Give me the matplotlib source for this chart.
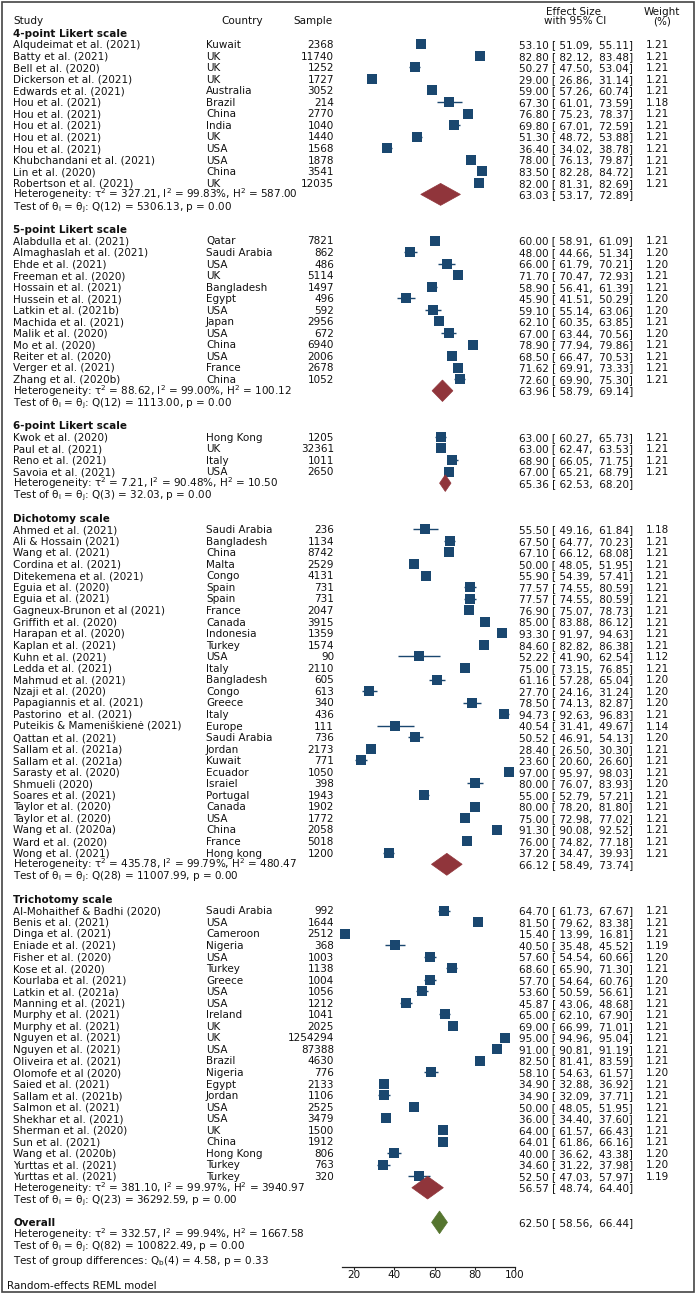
import matplotlib
matplotlib.use("Agg")
import matplotlib.pyplot as plt
from matplotlib.patches import Polygon, Rectangle
import matplotlib.transforms as mtransforms

plt.rcParams['font.family'] = ['DejaVu Sans']
plt.rcParams['mathtext.fontset'] = 'dejavusans'
plt.rcParams['mathtext.default'] = 'regular'

# ---------------- data ----------------
group_names = ["4-point Likert scale", "5-point Likert scale", "6-point Likert scale",
               "Dichotomy scale", "Trichotomy scale"]

studies_4 = ["Alqudeimat et al. (2021)", "Batty et al. (2021)", "Bell et al. (2020)",
             "Dickerson et al. (2021)", "Edwards et al. (2021)", "Hou et al. (2021)",
             "Hou et al. (2021)", "Hou et al. (2021)", "Hou et al. (2021)", "Hou et al. (2021)",
             "Khubchandani et al. (2021)", "Lin et al. (2020)", "Robertson et al. (2021)"]
country_4 = ["Kuwait", "UK", "UK", "UK", "Australia", "Brazil", "China", "India", "UK", "USA",
             "USA", "China", "UK"]
sample_4 = [2368, 11740, 1252, 1727, 3052, 214, 2770, 1040, 1440, 1568, 1878, 3541, 12035]
es_4 = [53.10, 82.80, 50.27, 29.00, 59.00, 67.30, 76.80, 69.80, 51.30, 36.40, 78.00, 83.50, 82.00]
lo_4 = [51.09, 82.12, 47.50, 26.86, 57.26, 61.01, 75.23, 67.01, 48.72, 34.02, 76.13, 82.28, 81.31]
hi_4 = [55.11, 83.48, 53.04, 31.14, 60.74, 73.59, 78.37, 72.59, 53.88, 38.78, 79.87, 84.72, 82.69]
wt_4 = [1.21, 1.21, 1.21, 1.21, 1.21, 1.18, 1.21, 1.21, 1.21, 1.21, 1.21, 1.21, 1.21]

studies_5 = ["Alabdulla et al. (2021)", "Almaghaslah et al. (2021)", "Ehde et al. (2021)",
             "Freeman et al. (2020)", "Hossain et al. (2021)", "Hussein et al. (2021)",
             "Latkin et al. (2021b)", "Machida et al. (2021)", "Malik et al. (2020)",
             "Mo et al. (2020)", "Reiter et al. (2020)", "Verger et al. (2021)",
             "Zhang et al. (2020b)"]
country_5 = ["Qatar", "Saudi Arabia", "USA", "UK", "Bangladesh", "Egypt", "USA", "Japan", "USA",
             "China", "USA", "France", "China"]
sample_5 = [7821, 862, 486, 5114, 1497, 496, 592, 2956, 672, 6940, 2006, 2678, 1052]
es_5 = [60.00, 48.00, 66.00, 71.70, 58.90, 45.90, 59.10, 62.10, 67.00, 78.90, 68.50, 71.62, 72.60]
lo_5 = [58.91, 44.66, 61.79, 70.47, 56.41, 41.51, 55.14, 60.35, 63.44, 77.94, 66.47, 69.91, 69.90]
hi_5 = [61.09, 51.34, 70.21, 72.93, 61.39, 50.29, 63.06, 63.85, 70.56, 79.86, 70.53, 73.33, 75.30]
wt_5 = [1.21, 1.20, 1.20, 1.21, 1.21, 1.20, 1.20, 1.21, 1.20, 1.21, 1.21, 1.21, 1.21]

studies_6 = ["Kwok et al. (2020)", "Paul et al. (2021)", "Reno et al. (2021)", "Savoia et al. (2021)"]
country_6 = ["Hong Kong", "UK", "Italy", "USA"]
sample_6 = [1205, 32361, 1011, 2650]
es_6 = [63.00, 63.00, 68.90, 67.00]
lo_6 = [60.27, 62.47, 66.05, 65.21]
hi_6 = [65.73, 63.53, 71.75, 68.79]
wt_6 = [1.21, 1.21, 1.21, 1.21]

studies_d = ["Ahmed et al. (2021)", "Ali & Hossain (2021)", "Wang et al. (2021)",
             "Cordina et al. (2021)", "Ditekemena et al. (2021)", "Eguia et al. (2020)",
             "Eguia et al. (2021)", "Gagneux-Brunon et al (2021)", "Griffith et al. (2020)",
             "Harapan et al. (2020)", "Kaplan et al. (2021)", "Kuhn et al. (2021)",
             "Ledda et al. (2021)", "Mahmud et al. (2021)", "Nzaji et al. (2020)",
             "Papagiannis et al. (2021)", "Pastorino  et al. (2021)",
             "Puteikis & Mameniškienė (2021)", "Qattan et al. (2021)", "Sallam et al. (2021a)",
             "Sallam et al. (2021a)", "Sarasty et al. (2020)", "Shmueli (2020)",
             "Soares et al. (2021)", "Taylor et al. (2020)", "Taylor et al. (2020)",
             "Wang et al. (2020a)", "Ward et al. (2020)", "Wong et al. (2021)"]
country_d = ["Saudi Arabia", "Bangladesh", "China", "Malta", "Congo", "Spain", "Spain", "France",
             "Canada", "Indonesia", "Turkey", "USA", "Italy", "Bangladesh", "Congo", "Greece",
             "Italy", "Europe", "Saudi Arabia", "Jordan", "Kuwait", "Ecuador", "Israiel",
             "Portugal", "Canada", "USA", "China", "France", "Hong kong"]
sample_d = [236, 1134, 8742, 2529, 4131, 731, 731, 2047, 3915, 1359, 1574, 90, 2110, 605, 613,
            340, 436, 111, 736, 2173, 771, 1050, 398, 1943, 1902, 1772, 2058, 5018, 1200]
es_d = [55.50, 67.50, 67.10, 50.00, 55.90, 77.57, 77.57, 76.90, 85.00, 93.30, 84.60, 52.22,
        75.00, 61.16, 27.70, 78.50, 94.73, 40.54, 50.52, 28.40, 23.60, 97.00, 80.00, 55.00,
        80.00, 75.00, 91.30, 76.00, 37.20]
lo_d = [49.16, 64.77, 66.12, 48.05, 54.39, 74.55, 74.55, 75.07, 83.88, 91.97, 82.82, 41.90,
        73.15, 57.28, 24.16, 74.13, 92.63, 31.41, 46.91, 26.50, 20.60, 95.97, 76.07, 52.79,
        78.20, 72.98, 90.08, 74.82, 34.47]
hi_d = [61.84, 70.23, 68.08, 51.95, 57.41, 80.59, 80.59, 78.73, 86.12, 94.63, 86.38, 62.54,
        76.85, 65.04, 31.24, 82.87, 96.83, 49.67, 54.13, 30.30, 26.60, 98.03, 83.93, 57.21,
        81.80, 77.02, 92.52, 77.18, 39.93]
wt_d = [1.18, 1.21, 1.21, 1.21, 1.21, 1.21, 1.21, 1.21, 1.21, 1.21, 1.21, 1.12, 1.21, 1.20,
        1.20, 1.20, 1.21, 1.14, 1.20, 1.21, 1.21, 1.21, 1.20, 1.21, 1.21, 1.21, 1.21, 1.21, 1.21]

studies_t = ["Al-Mohaithef & Badhi (2020)", "Benis et al. (2021)", "Dinga et al. (2021)",
             "Eniade et al. (2021)", "Fisher et al. (2020)", "Kose et al. (2020)",
             "Kourlaba et al. (2021)", "Latkin et al. (2021a)", "Manning et al. (2021)",
             "Murphy et al. (2021)", "Murphy et al. (2021)", "Nguyen et al. (2021)",
             "Nguyen et al. (2021)", "Oliveira et al. (2021)", "Olomofe et al (2020)",
             "Saied et al. (2021)", "Sallam et al. (2021b)", "Salmon et al. (2021)",
             "Shekhar et al. (2021)", "Sherman et al. (2020)", "Sun et al. (2021)",
             "Wang et al. (2020b)", "Yurttas et al. (2021)", "Yurttas et al. (2021)"]
country_t = ["Saudi Arabia", "USA", "Cameroon", "Nigeria", "USA", "Turkey", "Greece", "USA",
             "USA", "Ireland", "UK", "UK", "USA", "Brazil", "Nigeria", "Egypt", "Jordan", "USA",
             "USA", "UK", "China", "Hong Kong", "Turkey", "Turkey"]
sample_t = [992, 1644, 2512, 368, 1003, 1138, 1004, 1056, 1212, 1041, 2025, 1254294, 87388,
            4630, 776, 2133, 1106, 2525, 3479, 1500, 1912, 806, 763, 320]
es_t = [64.70, 81.50, 15.40, 40.50, 57.60, 68.60, 57.70, 53.60, 45.87, 65.00, 69.00, 95.00,
        91.00, 82.50, 58.10, 34.90, 34.90, 50.00, 36.00, 64.00, 64.01, 40.00, 34.60, 52.50]
lo_t = [61.73, 79.62, 13.99, 35.48, 54.54, 65.90, 54.64, 50.59, 43.06, 62.10, 66.99, 94.96,
        90.81, 81.41, 54.63, 32.88, 32.09, 48.05, 34.40, 61.57, 61.86, 36.62, 31.22, 47.03]
hi_t = [67.67, 83.38, 16.81, 45.52, 60.66, 71.30, 60.76, 56.61, 48.68, 67.90, 71.01, 95.04,
        91.19, 83.59, 61.57, 36.92, 37.71, 51.95, 37.60, 66.43, 66.16, 43.38, 37.98, 57.97]
wt_t = [1.21, 1.21, 1.21, 1.19, 1.20, 1.21, 1.20, 1.21, 1.21, 1.21, 1.21, 1.21, 1.21, 1.21,
        1.20, 1.21, 1.21, 1.21, 1.21, 1.21, 1.21, 1.20, 1.20, 1.19]

# pooled (subgroup) estimates
pooled_es = [63.03, 63.96, 65.36, 66.12, 56.57]
pooled_lo = [53.17, 58.79, 62.53, 58.49, 48.74]
pooled_hi = [72.89, 69.14, 68.20, 73.74, 64.40]
tau2 = [327.21, 88.62, 7.21, 435.78, 381.10]
i2 = [99.83, 99.00, 90.48, 99.79, 99.97]
h2 = [587.00, 100.12, 10.50, 480.47, 3940.97]
q_df = [12, 12, 3, 28, 23]
q_stat = [5306.13, 1113.00, 32.03, 11007.99, 36292.59]
q_p = [0.00, 0.00, 0.00, 0.00, 0.00]

overall_es, overall_lo, overall_hi = 62.50, 58.56, 66.44
overall_tau2, overall_i2, overall_h2 = 332.57, 99.94, 1667.58
overall_qdf, overall_q, overall_p = 82, 100822.49, 0.00
qb_df, qb_stat, qb_p = 4, 4.58, 0.33

x_ticks = [20, 40, 60, 80, 100]

groups = [
    (studies_4, country_4, sample_4, es_4, lo_4, hi_4, wt_4),
    (studies_5, country_5, sample_5, es_5, lo_5, hi_5, wt_5),
    (studies_6, country_6, sample_6, es_6, lo_6, hi_6, wt_6),
    (studies_d, country_d, sample_d, es_d, lo_d, hi_d, wt_d),
    (studies_t, country_t, sample_t, es_t, lo_t, hi_t, wt_t),
]

# ---------------- layout ----------------
W, H = 696, 1294
fig = plt.figure(figsize=(W / 100, H / 100), dpi=100)
Y0, DY = 32.7, 11.55          # pixel position of row 0 and row pitch
PX20, PXU = 354.0, 2.0125     # pixel of value 20 and pixels per unit
AXL, AXR = 330.0, 530.0

ax = fig.add_axes([AXL / W, 0, (AXR - AXL) / W, 1])
ax.set_xlim(20 + (AXL - PX20) / PXU, 20 + (AXR - PX20) / PXU)
ax.set_ylim((H - Y0) / DY, -Y0 / DY)
ax.patch.set_alpha(0)

tr = mtransforms.blended_transform_factory(fig.transFigure, ax.transData)
FS = 7.5
BASE = 0.33   # baseline offset below row centre, in rows
NAVY = '#1a476f'
MAROON = '#90353b'
GREEN = '#55752f'
TXT = '#111111'


def txt(xpx, row, s, ha='left', bold=False):
    ax.text(xpx / W, row + BASE, s, transform=tr, ha=ha, va='baseline', fontsize=FS,
            fontweight='bold' if bold else 'normal', color=TXT, clip_on=False)


def ci(e, l, h):
    return f"{e:.2f} [ {l:.2f},  {h:.2f}]"


# header
txt(574, -1.82, "Effect Size", ha='center')
txt(575, -1.04, "with 95% CI", ha='center')
txt(662, -1.82, "Weight", ha='center')
txt(662, -1.04, "(%)", ha='center')
txt(13, -1.04, "Study")
txt(263, -1.04, "Country", ha='right')
txt(333, -1.04, "Sample", ha='right')

COL_STUDY, COL_COUNTRY, COL_SAMPLE, COL_CI, COL_WT = 13, 206, 334, 633, 669
SQ = 10.0  # square side in px at weight 1.21
DIAM_H = [0.95, 0.93, 0.72, 0.95, 0.98]

row = 0
for g, (names, ctry, samp, es, lo, hi, wt) in enumerate(groups):
    txt(COL_STUDY, row, group_names[g], bold=True)
    row += 1
    for k in range(len(names)):
        txt(COL_STUDY, row, names[k])
        txt(COL_COUNTRY, row, ctry[k])
        txt(COL_SAMPLE, row, f"{samp[k]}", ha='right')
        txt(COL_CI, row, ci(es[k], lo[k], hi[k]), ha='right')
        txt(COL_WT, row, f"{wt[k]:.2f}", ha='right')
        ax.plot([lo[k], hi[k]], [row, row], color=NAVY, lw=1.0, solid_capstyle='butt', zorder=2)
        side = SQ * (wt[k] / 1.21) ** 0.5 * 0.72
        ax.plot([es[k]], [row], marker='s', ms=side, color=NAVY, mec=NAVY, mew=0.0, zorder=3)
        row += 1
    # heterogeneity row with diamond
    txt(COL_STUDY, row, f"Heterogeneity: $\\tau^2$ = {tau2[g]:.2f}, I$^2$ = {i2[g]:.2f}%, H$^2$ = {h2[g]:.2f}")
    txt(COL_CI, row, ci(pooled_es[g], pooled_lo[g], pooled_hi[g]), ha='right')
    hh = DIAM_H[g]
    ax.add_patch(Polygon([(pooled_lo[g], row), (pooled_es[g], row - hh), (pooled_hi[g], row),
                          (pooled_es[g], row + hh)], closed=True, fc=MAROON, ec=MAROON, lw=0.5, zorder=3))
    row += 1
    txt(COL_STUDY, row, f"Test of $\\theta_i$ = $\\theta_j$: Q({q_df[g]}) = {q_stat[g]:.2f}, p = {q_p[g]:.2f}")
    row += 2

# overall
txt(COL_STUDY, row, "Overall", bold=True)
txt(COL_CI, row, ci(overall_es, overall_lo, overall_hi), ha='right')
hh = 0.98
ax.add_patch(Polygon([(overall_lo, row), (overall_es, row - hh), (overall_hi, row),
                      (overall_es, row + hh)], closed=True, fc=GREEN, ec=GREEN, lw=0.5, zorder=3))
row += 1
txt(COL_STUDY, row, f"Heterogeneity: $\\tau^2$ = {overall_tau2:.2f}, I$^2$ = {overall_i2:.2f}%, H$^2$ = {overall_h2:.2f}")
row += 1
txt(COL_STUDY, row, f"Test of $\\theta_i$ = $\\theta_j$: Q({overall_qdf}) = {overall_q:.2f}, p = {overall_p:.2f}")
row += 1.26
txt(COL_STUDY, row, f"Test of group differences: Q$_b$({qb_df}) = {qb_stat:.2f}, p = {qb_p:.2f}")
axis_row = row + 0.62
txt(7, row + 2.2, "Random-effects REML model")

# x axis
for s in ['top', 'left', 'right']:
    ax.spines[s].set_visible(False)
ax.spines['bottom'].set_position(('data', axis_row))
ax.spines['bottom'].set_bounds(13.99, 100)
ax.spines['bottom'].set_linewidth(0.9)
ax.spines['bottom'].set_color('#222222')
ax.set_yticks([])
ax.set_xticks(x_ticks)
ax.set_xticklabels([str(t) for t in x_ticks])
ax.tick_params(axis='x', direction='out', length=2.0, width=0.8, pad=0.3, labelsize=FS,
               color='#222222', labelcolor=TXT)

# border
fig.patches.append(Rectangle((2 / W, 2 / H), (W - 4) / W, (H - 4) / H, transform=fig.transFigure,
                             fill=False, ec='#444444', lw=1.2))

fig.savefig("out.png", dpi=100)
